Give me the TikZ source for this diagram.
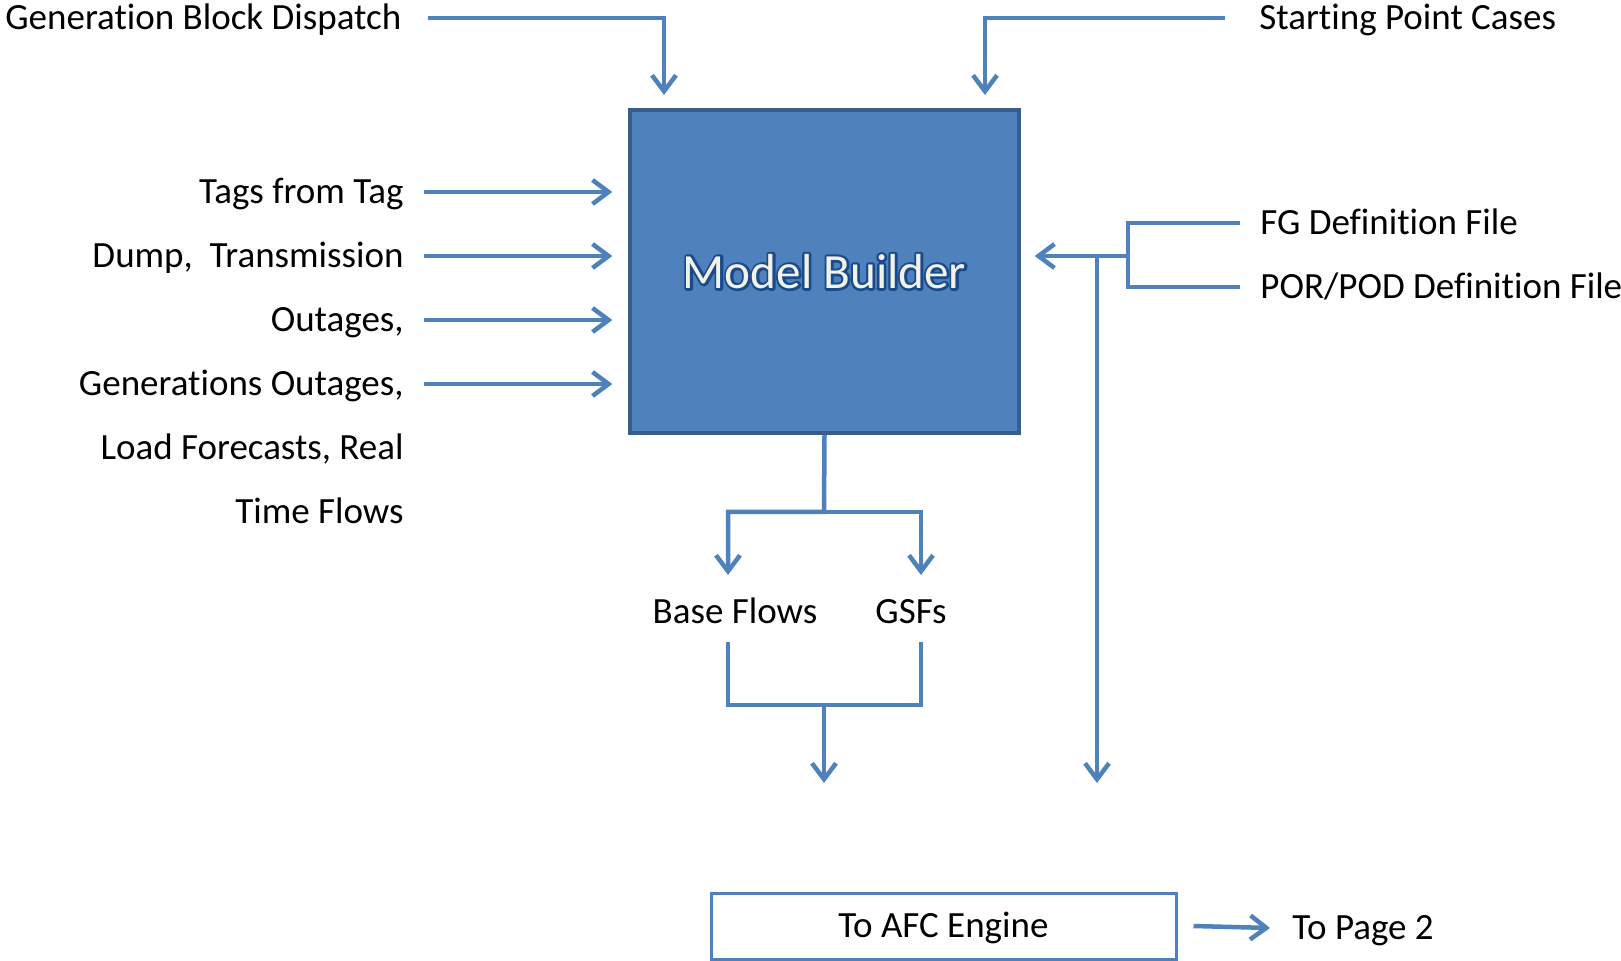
\documentclass[tikz,border=0pt]{standalone}
\usepackage{fontspec}
\setmainfont{Carlito}[Ligatures=NoCommon]
\usepackage{tikz}
\usetikzlibrary{arrows.meta}
\definecolor{flowblue}{HTML}{4F81BD}
\definecolor{mbedge}{HTML}{385D8A}
\definecolor{mbfill}{HTML}{F4F2E6}
\newcommand\outlinetext[1]{\special{pdf:literal direct q 1 Tr 2.4 w 1 J 1 j 0.10 0.29 0.55 RG}#1\special{pdf:literal direct Q}}
\tikzset{line/.style={draw=flowblue, line width=2.25pt}}
\tikzset{flow/.style={line, -{Straight Barb[length=8pt, width=12pt]}}}
\tikzset{lbl/.style={font=\fontsize{18.5}{22}\selectfont, inner sep=0pt, text height=11.8pt, text depth=0pt}}
\tikzset{mbtext/.style={font=\fontsize{24.6}{28}\selectfont, inner sep=0pt, text=mbfill}}

\begin{document}
\begin{tikzpicture}[x=0.5pt, y=-0.5pt]
      \useasboundingbox (0,0) rectangle (1621,961);

      \node[draw=mbedge, fill=flowblue, line width=1.75pt, minimum width=194.5pt,
        minimum height=161.5pt] (mb) at (824.5,271.5) {};
      \node[mbtext] (mbo) at (mb.center) {\outlinetext{Model Builder}};
      \node[mbtext] (mbt) at (mb.center) {Model Builder};

      \node[lbl, anchor=west] (gbd) at (5,18) {Generation Block Dispatch};
      \node[lbl, anchor=west] (spc) at (1259,18) {Starting Point Cases};
      \coordinate (gbdtip) at (664,95);
      \coordinate (spctip) at (985,95);
      \draw[flow] ([xshift=13pt]gbd.east) -| (gbdtip);
      \draw[flow] ([xshift=-17pt]spc.west) -| (spctip);

      \foreach \i/\t in {1/Tags from Tag, 2/{Dump,\ \ Transmission}, 3/{Outages,},
        4/{Generations Outages,}, 5/{Load Forecasts, Real}, 6/Time Flows}
        \node[lbl, anchor=east] (in\i) at (404,{192+(\i-1)*64}) {\t};
      \foreach \i in {1,...,4}
        \draw[flow] ([xshift=10pt]in\i.east) -- ([xshift=-8pt]in\i.east -| mb.west);

      \node[lbl, anchor=west] (fg) at (1260,223) {FG Definition File};
      \node[lbl, anchor=west] (por) at (1260,287) {POR/POD Definition File};
      \coordinate (fgjoin) at (1128,256);
      \coordinate (down2) at (1097,783);
      \draw[line] ([xshift=-10pt]fg.west) -| (fgjoin) |- ([xshift=-10pt]por.west);
      \draw[flow] (fgjoin) -- ([xshift=7pt]fgjoin -| mb.east);
      \draw[flow] (fgjoin -| down2) -- (down2);

      \node[lbl] (base) at (735,612) {Base Flows};
      \node[lbl] (gsf) at (911,612) {GSFs};
      \coordinate (split) at (824,512);
      \coordinate (bftip) at (728,575);
      \coordinate (gstip) at (921,575);
      \draw[flow] (mb.south) -- (split) -| (bftip);
      \draw[flow] (split) -| (gstip);
      \coordinate (bfout) at (728,642);
      \coordinate (gsout) at (921,642);
      \coordinate (merge) at (824,705);
      \coordinate (out1) at (824,783);
      \draw[line] (bfout) |- (merge) -| (gsout);
      \draw[flow] (merge) -- (out1);

      \node[lbl, draw=flowblue, line width=1.5pt, minimum width=232.5pt,
        minimum height=33pt] (afc) at (943.5,926) {To AFC Engine};
      \node[lbl, anchor=west] (pg) at (1292,928) {To Page 2};
      \draw[flow] ([xshift=8pt]afc.east) -- ([xshift=-11pt]pg.west);
    \end{tikzpicture}
\end{document}
